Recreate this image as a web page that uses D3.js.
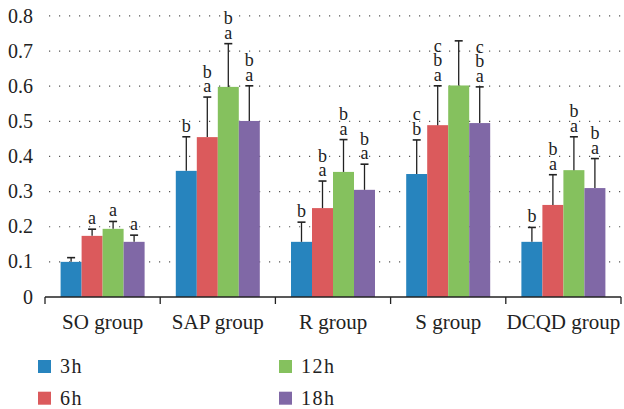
<!DOCTYPE html>
<html><head><meta charset="utf-8">
<script src="https://cdn.jsdelivr.net/npm/d3@7"></script>
</head><body style="margin:0">
<svg id="c" width="624" height="409" font-family="Liberation Serif" style="display:block"></svg>
<script>
const categories = ["SO group","SAP group","R group","S group","DCQD group"];
const seriesNames = ["3h","6h","12h","18h"];
const colors = ["#2784BE","#DB5A5C","#85C15E","#8068A6"];
const yTicks = [0,0.1,0.2,0.3,0.4,0.5,0.6,0.7,0.8];
// means per series (in category order)
const m3h  = [0.100,0.359,0.157,0.350,0.157];
const m6h  = [0.174,0.455,0.253,0.489,0.262];
const m12h = [0.194,0.598,0.356,0.602,0.361];
const m18h = [0.157,0.501,0.305,0.495,0.310];
// top of error bars
const e3h  = [0.112,0.456,0.213,0.447,0.198];
const e6h  = [0.193,0.569,0.330,0.601,0.348];
const e12h = [0.215,0.721,0.448,0.729,0.456];
const e18h = [0.176,0.601,0.378,0.598,0.394];
// significance letters (bottom to top)
const l3h  = ["","b","b","bc","b"];
const l6h  = ["a","ab","ab","abc","ab"];
const l12h = ["a","ab","ab","","ab"];
const l18h = ["a","ab","ab","abc","ab"];

const means = [m3h,m6h,m12h,m18h];
const errs = [e3h,e6h,e12h,e18h];
const letters = [l3h,l6h,l12h,l18h];

const FONT = "Liberation Serif";
const svg = d3.select("#c");
const mLeft = 45, mRight = 621, mTop = 15.9, mBottom = 297;

const x = d3.scaleBand().domain(categories).range([mLeft,mRight]).paddingInner(0).paddingOuter(0);
const y = d3.scaleLinear().domain([0,0.8]).range([mBottom,mTop]);
const barW = 21;
const xs = d3.scaleBand().domain(seriesNames).range([0,barW*4]);

// grid
svg.append("g").selectAll("line").data(yTicks.filter(d=>d>0)).join("line")
  .attr("x1",mLeft+4).attr("x2",mRight)
  .attr("y1",d=>y(d)).attr("y2",d=>y(d))
  .attr("stroke","#555").attr("stroke-width",1.2)
  .attr("stroke-dasharray","1.2,8.8");

// y tick labels
svg.append("g").selectAll("text").data(yTicks).join("text")
  .attr("x",33).attr("y",d=>y(d)).attr("dy","0.33em")
  .attr("text-anchor","end").style("font-family",FONT).attr("font-size",20)
  .attr("fill","#222").text(d=>d===0?"0":d.toFixed(1));

// bars
const groupOffset = (x.bandwidth()-barW*4)/2;
seriesNames.forEach((s,si)=>{
  const g = svg.append("g");
  g.selectAll("rect").data(categories).join("rect")
    .attr("x",(c)=>x(c)+groupOffset+xs(s))
    .attr("width",barW)
    .attr("y",(c,i)=>y(means[si][i]))
    .attr("height",(c,i)=>y(0)-y(means[si][i]))
    .attr("fill",colors[si]);
  const cx = c=>x(c)+groupOffset+xs(s)+barW/2;
  g.selectAll("line.v").data(categories).join("line").attr("class","v")
    .attr("x1",cx).attr("x2",cx)
    .attr("y1",(c,i)=>y(means[si][i])).attr("y2",(c,i)=>y(errs[si][i]))
    .attr("stroke","#222").attr("stroke-width",1.3);
  g.selectAll("line.h").data(categories).join("line").attr("class","h")
    .attr("x1",c=>cx(c)-4).attr("x2",c=>cx(c)+4)
    .attr("y1",(c,i)=>y(errs[si][i])).attr("y2",(c,i)=>y(errs[si][i]))
    .attr("stroke","#222").attr("stroke-width",1.6);
  categories.forEach((c,i)=>{
    const ls = letters[si][i].split("");
    ls.forEach((ch,k)=>{
      svg.append("text").attr("x",cx(c)).attr("y",y(errs[si][i])-5-k*14.5)
        .attr("text-anchor","middle").style("font-family",FONT).attr("font-size",18)
        .attr("fill","#222").text(ch);
    });
  });
});

// x axis
const xAxis = svg.append("g");
xAxis.append("line").attr("x1",mLeft).attr("x2",mRight).attr("y1",mBottom).attr("y2",mBottom)
  .attr("stroke","#222").attr("stroke-width",1.3);
const bounds = categories.map(c=>x(c)).concat([mRight]);
xAxis.selectAll("line.t").data(bounds).join("line").attr("class","t")
  .attr("x1",d=>d).attr("x2",d=>d).attr("y1",mBottom).attr("y2",mBottom+7)
  .attr("stroke","#222").attr("stroke-width",1.3);
xAxis.selectAll("text").data(categories).join("text")
  .attr("x",c=>x(c)+x.bandwidth()/2).attr("y",329)
  .attr("text-anchor","middle").style("font-family",FONT).attr("font-size",21)
  .attr("fill","#222").text(c=>c);

// legend
const legPos = [[38,360],[38,391.7],[279,360],[279,391.7]];
seriesNames.forEach((s,i)=>{
  svg.append("rect").attr("x",legPos[i][0]).attr("y",legPos[i][1]).attr("width",13).attr("height",13).attr("fill",colors[i]);
  svg.append("text").attr("x",legPos[i][0]+22).attr("y",legPos[i][1]+13)
    .style("font-family",FONT).attr("font-size",20).attr("letter-spacing","1.5px")
    .attr("fill","#222").text(s);
});
</script>
</body></html>
